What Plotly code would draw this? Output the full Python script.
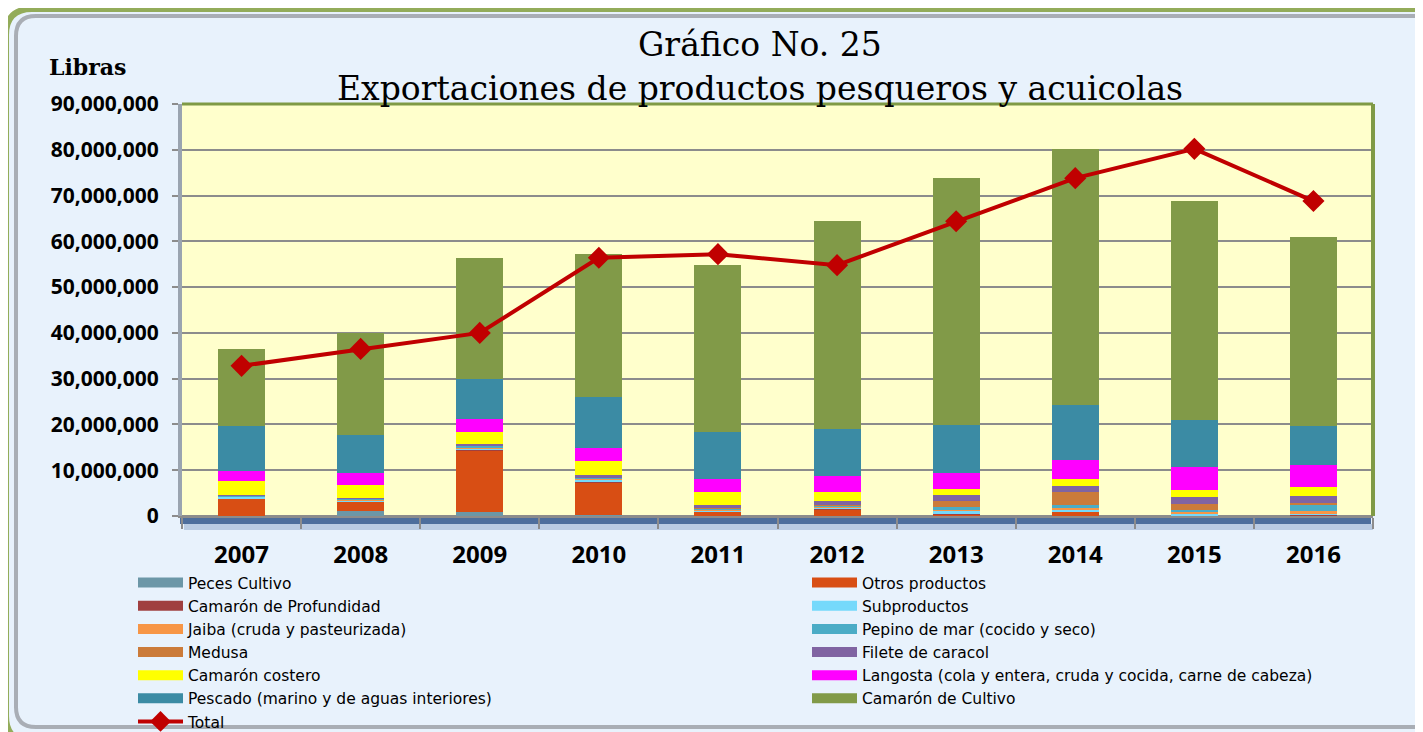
import plotly.graph_objects as go

# datos (millones de libras), de abajo hacia arriba en cada columna
years = ["2007", "2008", "2009", "2010", "2011", "2012", "2013", "2014", "2015", "2016"]

peces_cultivo = [0.05, 1.0, 0.9, 0.2, 0.05, 0.05, 0.05, 0.05, 0.05, 0.05]
otros_productos = [3.8, 2.1, 13.5, 7.2, 0.85, 1.45, 0.3, 0.85, 0.1, 0.05]
camaron_profundidad = [0.05, 0.05, 0.05, 0.1, 0.05, 0.05, 0.05, 0.05, 0.05, 0.05]
subproductos = [0.3, 0.25, 0.4, 0.4, 0.25, 0.25, 0.7, 0.5, 0.3, 0.5]
jaiba = [0.05, 0.1, 0.1, 0.1, 0.15, 0.2, 0.3, 0.4, 0.3, 0.4]
pepino_mar = [0.2, 0.25, 0.4, 0.5, 0.3, 0.3, 0.5, 0.45, 0.5, 1.45]
medusa = [0.0, 0.0, 0.0, 0.0, 0.1, 0.1, 1.3, 2.95, 1.4, 0.35]
filete_caracol = [0.12, 0.25, 0.35, 0.4, 0.65, 0.8, 1.4, 1.3, 1.4, 1.5]
camaron_costero = [3.0, 2.7, 2.7, 3.1, 2.84, 2.1, 1.3, 1.6, 1.6, 1.9]
langosta = [2.17, 2.6, 2.7, 2.9, 2.91, 3.5, 3.55, 4.05, 5.1, 4.85]
pescado = [9.95, 8.5, 8.8, 11.0, 10.25, 10.1, 10.35, 12.0, 10.2, 8.55]
camaron_cultivo = [16.8, 22.2, 26.4, 31.3, 36.4, 45.5, 54.0, 56.0, 47.8, 41.25]

total = [32.8, 36.5, 40.0, 56.4, 57.2, 54.8, 64.4, 73.8, 80.2, 68.8]

series = [
    ("Peces Cultivo", peces_cultivo, "#6C97A7"),
    ("Otros productos", otros_productos, "#D84E14"),
    ("Camarón de Profundidad", camaron_profundidad, "#A04040"),
    ("Subproductos", subproductos, "#75D9FB"),
    ("Jaiba (cruda y pasteurizada)", jaiba, "#F79646"),
    ("Pepino de mar (cocido y seco)", pepino_mar, "#4BACC6"),
    ("Medusa", medusa, "#CB7B3A"),
    ("Filete de caracol", filete_caracol, "#8064A2"),
    ("Camarón costero", camaron_costero, "#FFFF00"),
    ("Langosta (cola y entera, cruda y cocida, carne de cabeza)", langosta, "#FF00FF"),
    ("Pescado (marino y de aguas interiores)", pescado, "#3B8BA4"),
    ("Camarón de Cultivo", camaron_cultivo, "#819A48"),
]

# coordenadas de la ventana; la página añade 8 px de margen al body
OFF = 8
WIN_W, WIN_H = 1423, 732
L, R, T, B = 182, 1373, 104, 516


def px(x):
    return (x - L) / (R - L)


def py(y):
    return (B - y) / (B - T)


def rounded(x0, y0, x1, y1, r):
    pts = [
        ("M", x0 + r, y0), ("L", x1 - r, y0), ("Q", x1, y0, x1, y0 + r),
        ("L", x1, y1 - r), ("Q", x1, y1, x1 - r, y1), ("L", x0 + r, y1),
        ("Q", x0, y1, x0, y1 - r), ("L", x0, y0 + r), ("Q", x0, y0, x0 + r, y0),
    ]
    out = []
    for p in pts:
        if p[0] == "Q":
            out.append(f"Q{px(p[1]):.5f},{py(p[2]):.5f} {px(p[3]):.5f},{py(p[4]):.5f}")
        else:
            out.append(f"{p[0]}{px(p[1]):.5f},{py(p[2]):.5f}")
    return " ".join(out) + " Z"


fig = go.Figure()

for name, vals, color in series:
    fig.add_trace(go.Bar(
        x=years, y=[v * 1e6 for v in vals], name=name,
        marker=dict(color=color, line=dict(width=0)),
        legendgroup=name, showlegend=False,
    ))

fig.add_trace(go.Scatter(
    x=years, y=[v * 1e6 for v in total], name="Total", mode="lines+markers",
    line=dict(color="#C00000", width=4),
    marker=dict(symbol="diamond", size=17, color="#C00000"),
    legend="legend", legendrank=100,
))

# entradas de leyenda en dos columnas
for i, (name, vals, color) in enumerate(series):
    fig.add_trace(go.Scatter(
        x=[None], y=[None], name=name, mode="lines",
        line=dict(color=color, width=11),
        legendgroup=name, legend="legend" if i % 2 == 0 else "legend2",
        legendrank=i,
    ))

legend_font = dict(family="DejaVu Sans", size=15.5, color="black")

fig.update_layout(
    width=WIN_W - OFF, height=WIN_H - OFF,
    margin=dict(l=L - OFF, r=WIN_W - R, t=T - OFF, b=WIN_H - B, autoexpand=False),
    paper_bgcolor="white",
    plot_bgcolor="#FFFFCC",
    barmode="stack",
    bargap=0.605,
    font=dict(family="Open Sans", color="black"),
    xaxis=dict(
        type="category", range=[-0.5, 9.5], showgrid=False,
        ticks="outside", tickson="boundaries",
        ticklen=11, tickwidth=2, tickcolor="#8C8C8C",
        showline=True, linecolor="#8C8C8C", linewidth=2,
        tickfont=dict(family="Open Sans", size=24, color="black", weight="bold"),
        ticklabelstandoff=16,
    ),
    yaxis=dict(
        range=[0, 90e6], dtick=10e6, tickformat=",d",
        showgrid=True, gridcolor="#8C8C8C", gridwidth=2,
        zeroline=True, zerolinecolor="#8C8C8C", zerolinewidth=2,
        showline=True, linecolor="#9AA4B0", linewidth=4,
        ticks="outside", ticklen=6, tickwidth=2, tickcolor="#8C8C8C",
        tickfont=dict(family="Open Sans", size=21, color="black", weight="bold"),
        ticklabelstandoff=9,
    ),
    legend=dict(
        x=px(133), y=py(566), xanchor="left", yanchor="top",
        bgcolor="rgba(0,0,0,0)", traceorder="normal", itemwidth=45,
        font=legend_font, tracegroupgap=0,
    ),
    legend2=dict(
        x=px(807), y=py(566), xanchor="left", yanchor="top",
        bgcolor="rgba(0,0,0,0)", traceorder="normal", itemwidth=45,
        font=legend_font, tracegroupgap=0,
    ),
    shapes=[
        dict(type="path", xref="paper", yref="paper", layer="below",
             path=rounded(6, 9, 1445, 742, 26),
             line=dict(color="#93AC5A", width=6), fillcolor="#E8F2FC"),
        dict(type="path", xref="paper", yref="paper", layer="below",
             path=rounded(16, 16, 1440, 727, 20),
             line=dict(color="#A9AEB5", width=4), fillcolor="#E8F2FC"),
        dict(type="rect", xref="paper", yref="paper", layer="below",
             x0=0, x1=1, y0=0, y1=1, line=dict(width=0), fillcolor="#FFFFCC"),
        dict(type="rect", xref="paper", yref="paper", layer="below",
             x0=px(180), x1=px(1371), y0=py(517), y1=py(524),
             line=dict(width=0), fillcolor="#4D6E9C"),
        dict(type="rect", xref="paper", yref="paper", layer="below",
             x0=px(184), x1=px(1373), y0=py(524), y1=py(530),
             line=dict(width=0), fillcolor="#B9CBE2"),
        dict(type="line", xref="paper", yref="paper", x0=0, x1=1, y0=1, y1=1,
             line=dict(color="#7F9A45", width=3)),
        dict(type="line", xref="paper", yref="paper", x0=1, x1=1, y0=0, y1=1,
             line=dict(color="#7F9A45", width=4)),
    ],
    annotations=[
        dict(text="Gráfico No. 25", xref="paper", yref="paper",
             x=px(760), y=py(45), xanchor="center", yanchor="middle",
             showarrow=False,
             font=dict(family="DejaVu Serif", size=33, color="black")),
        dict(text="Exportaciones de productos pesqueros y acuicolas",
             xref="paper", yref="paper", x=px(760), y=py(89),
             xanchor="center", yanchor="middle", showarrow=False,
             font=dict(family="DejaVu Serif", size=33, color="black")),
        dict(text="Libras", xref="paper", yref="paper", x=px(47), y=py(67),
             xanchor="left", yanchor="middle", showarrow=False,
             font=dict(family="DejaVu Serif", size=22, color="black", weight="bold")),
    ],
)

fig.write_html("out.html")
